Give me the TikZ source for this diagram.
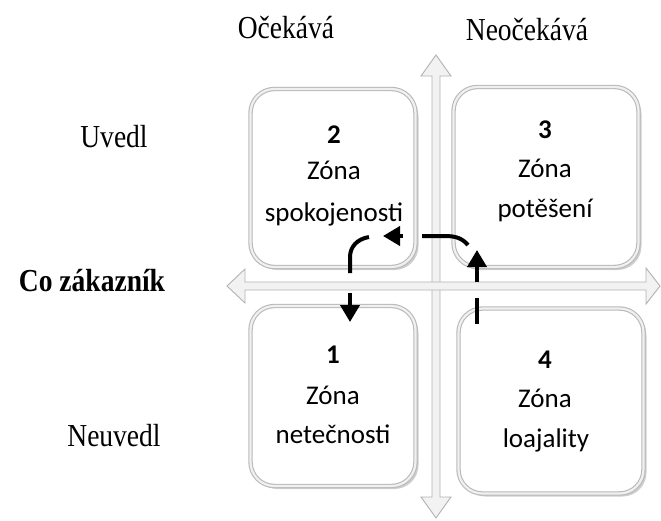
\documentclass[tikz,border=0pt]{standalone}
\usepackage{fontspec}
\setmainfont{Liberation Serif}
\newfontfamily\zonefont{Carlito}
\usetikzlibrary{arrows.meta,shadows}
\tikzset{
  zonebox/.style={draw=gray!55, line width=1.1pt, double=gray!12, double distance=2.2pt,
    fill=white, rounded corners=24pt, inner sep=0pt,
    drop shadow={shadow xshift=3pt, shadow yshift=-3pt, fill=gray!70, opacity=0.55}},
  axis/.style={draw=gray!60, line width=0.9pt, fill=gray!10, line join=miter},
  hdr/.style={font=\fontsize{32}{36}\selectfont, anchor=base, inner sep=0pt},
  ztext/.style={font=\zonefont\fontsize{27}{31}\selectfont, anchor=base, inner sep=0pt},
  znum/.style={font=\zonefont\bfseries\fontsize{27}{31}\selectfont, anchor=base, inner sep=0pt},
  dashpart/.style={line width=4pt, black},
  dashhead/.style={line width=4pt, black, -{Triangle[length=17pt,width=19pt]}},
}
\newcommand{\hs}[1]{\scalebox{0.86}[1]{#1}}
\begin{document}
\begin{tikzpicture}[x=1pt,y=-1pt]
\useasboundingbox (0,0) rectangle (661,520);
% vertical axis
\draw[axis] (432,497) -- (421,497) -- (436,518) -- (451,497) -- (440,497)
  -- (440,76) -- (451,76) -- (436,55) -- (421,76) -- (432,76) -- cycle;
% horizontal axis
\draw[axis] (245,290) -- (245,303) -- (227,286) -- (245,269) -- (245,282)
  -- (646,282) -- (646,268) -- (660,286) -- (646,304) -- (646,290) -- cycle;
\fill[gray!10] (433,283) rectangle (439,289);
% boxes
\node[zonebox, minimum width=165pt, minimum height=178pt] (b2) at (333,178) {};
\node[zonebox, minimum width=185pt, minimum height=180pt] (b3) at (546,177) {};
\node[zonebox, minimum width=165pt, minimum height=180pt] (b1) at (333,396) {};
\node[zonebox, minimum width=185pt, minimum height=185pt] (b4) at (551,401) {};
% box texts
\node[znum] (n2) at (334,143) {2};
\node[ztext] (z2) at (334,179) {Zóna};
\node[ztext] (t2) at (334,221) {spokojenosti};
\node[znum] (n3) at (545,138) {3};
\node[ztext] (z3) at (545,177) {Zóna};
\node[ztext] (t3) at (545,217) {potěšení};
\node[znum] (n1) at (333,363) {1};
\node[ztext] (z1) at (333,404) {Zóna};
\node[ztext] (t1) at (333,443) {netečnosti};
\node[znum] (n4) at (545,368) {4};
\node[ztext] (z4) at (545,407) {Zóna};
\node[ztext] (t4) at (546,447) {loajality};
% headers
\node[hdr] (h1) at (286,38) {\hs{Očekává}};
\node[hdr] (h2) at (527,40) {\hs{Neočekává}};
\node[hdr] (r1) at (114,147) {\hs{Uvedl}};
\node[hdr, font=\bfseries\fontsize{32}{36}\selectfont] (r0) at (92,291) {\hs{Co zákazník}};
\node[hdr] (r2) at (114,446) {\hs{Neuvedl}};
% dashed arrows
\coordinate (a0) at (477,324);
\coordinate (a1) at (477,298);
\coordinate (a2) at (477,282);
\coordinate (a3) at (477,250);
\coordinate (c0) at (468,245);
\coordinate (c1) at (445,236);
\coordinate (c2) at (422,236);
\coordinate (c3) at (403,236);
\coordinate (c4) at (383,236);
\coordinate (d0) at (369,237);
\coordinate (d1) at (350,257);
\coordinate (d2) at (350,273);
\coordinate (d3) at (350,293);
\coordinate (d4) at (350,322);
\draw[dashpart] (a0) -- (a1);
\draw[dashhead] (a2) -- (a3);
\draw[dashpart] (c0) .. controls (462,238) and (455,236) .. (c1) -- (c2);
\draw[dashhead] (c3) -- (c4);
\draw[dashpart] (d0) .. controls (357,239) and (350,247) .. (d1) -- (d2);
\draw[dashhead] (d3) -- (d4);
\end{tikzpicture}
\end{document}
